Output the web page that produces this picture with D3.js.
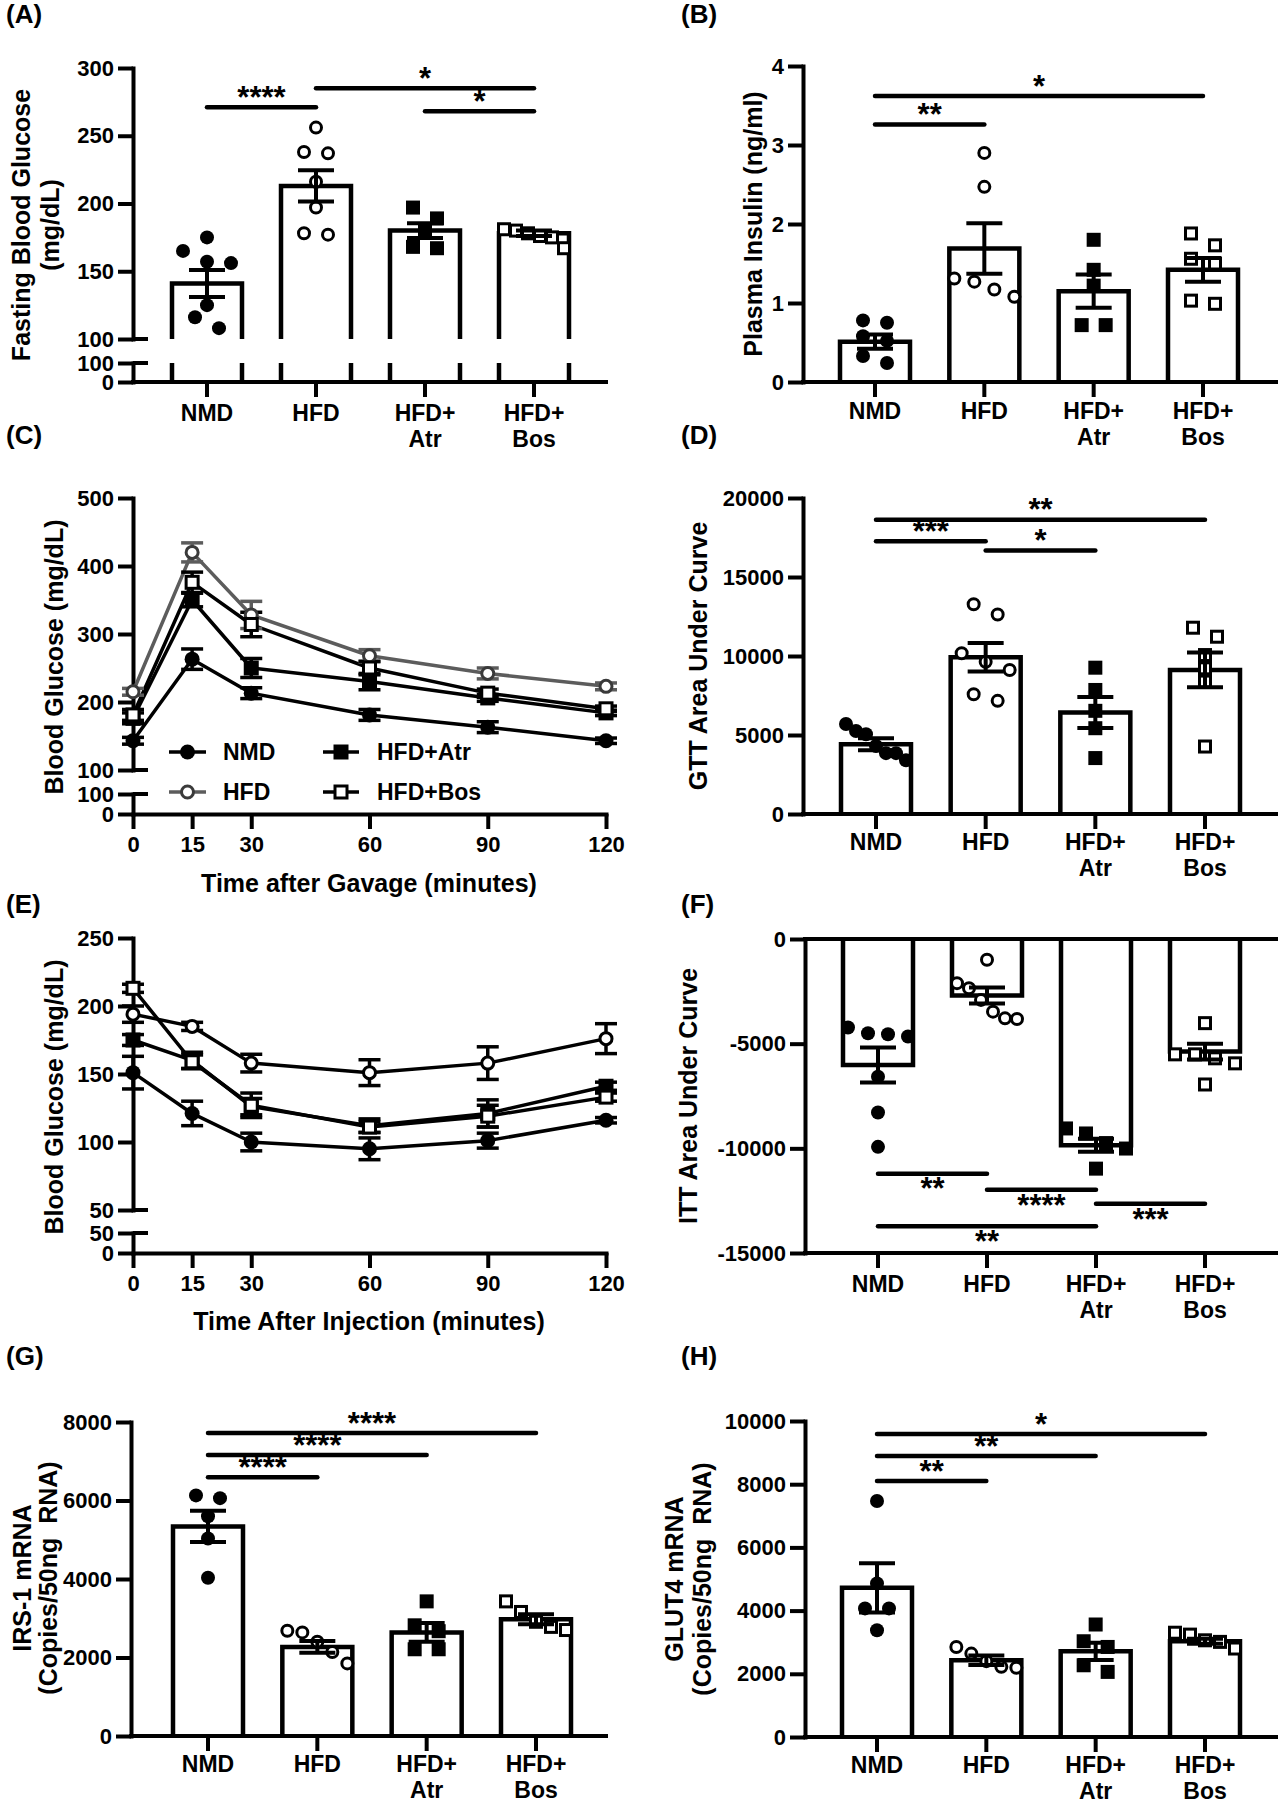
<!DOCTYPE html>
<html>
<head>
<meta charset="utf-8">
<script src="https://cdn.jsdelivr.net/npm/d3@7"></script>
<style>
html,body{margin:0;padding:0;background:#fff;}
svg{display:block;}
</style>
</head>
<body>
<script>
// ================= DATA =================
const groups = ["NMD", "HFD", "HFD+Atr", "HFD+Bos"];
const groupLabelLines = [["NMD"], ["HFD"], ["HFD+", "Atr"], ["HFD+", "Bos"]];
const groupMarkers = ["circleFilled", "circleOpen", "squareFilled", "squareOpen"];

// (A) Fasting blood glucose (mg/dL)
const fbgTicksUpper = [100, 150, 200, 250, 300];
const fbgTicksLower = [0, 100];
const fbgMean = [141, 213, 180, 178];
const fbgSem = [10, 11.5, 5.5, 2];
const fbgPoints = [
  [175, 165, 157, 156, 125, 116, 108],
  [256, 238, 237, 216, 197, 178, 177],
  [197, 189, 180, 168, 167],
  [181, 180, 178, 176, 175, 167]
];
const fbgSig = [
  {from: "NMD", to: "HFD", at: 271, label: "****"},
  {from: "HFD", to: "HFD+Bos", at: 285, label: "*"},
  {from: "HFD+Atr", to: "HFD+Bos", at: 268, label: "*"}
];

// (B) Plasma insulin (ng/ml)
const insTicks = [0, 1, 2, 3, 4];
const insMean = [0.51, 1.69, 1.15, 1.42];
const insSem = [0.09, 0.32, 0.21, 0.15];
const insPoints = [
  [0.78, 0.75, 0.58, 0.52, 0.33, 0.24],
  [2.9, 2.47, 1.31, 1.27, 1.17, 1.08],
  [1.8, 1.42, 1.22, 0.72, 0.72],
  [1.88, 1.73, 1.56, 1.50, 1.03, 0.99]
];
const insSig = [
  {from: "NMD", to: "HFD", at: 3.26, label: "**"},
  {from: "NMD", to: "HFD+Bos", at: 3.62, label: "*"}
];

// (C) GTT time course (mg/dL)
const times = [0, 15, 30, 60, 90, 120];
const gttTicksUpper = [100, 200, 300, 400, 500];
const gttTicksLower = [0, 100];
const gttNMD = [143, 263, 213, 181, 163, 143];
const gttNMDsem = [5, 15, 8, 8, 8, 4];
const gttHFD = [215, 420, 328, 268, 242, 223];
const gttHFDsem = [5, 14, 20, 9, 8, 5];
const gttAtr = [176, 350, 250, 230, 206, 184];
const gttAtrSem = [8, 10, 14, 12, 5, 4];
const gttBos = [181, 376, 314, 250, 213, 190];
const gttBosSem = [8, 15, 18, 10, 6, 4];

// (D) GTT AUC
const gttAucTicks = [0, 5000, 10000, 15000, 20000];
const gttAucMean = [4420, 9915, 6420, 9115];
const gttAucSem = [380, 900, 980, 1100];
const gttAucPoints = [
  [5700, 5250, 5050, 4300, 3850, 3850, 3400],
  [13280, 12630, 10170, 9640, 9110, 7580, 7160],
  [9260, 7850, 6530, 5430, 3540],
  [11790, 11220, 10060, 9220, 8380, 4270]
];
const gttAucSig = [
  {from: "NMD", to: "HFD+Bos", at: 18630, label: "**"},
  {from: "NMD", to: "HFD", at: 17260, label: "***"},
  {from: "HFD", to: "HFD+Atr", at: 16670, label: "*"}
];

// (E) ITT time course (mg/dL)
const ittTicksUpper = [50, 100, 150, 200, 250];
const ittTicksLower = [0, 50];
const ittNMD = [151, 121, 100, 95, 101, 116];
const ittNMDsem = [12, 9, 6.5, 8, 5.5, 2];
const ittHFD = [194, 185, 158, 151, 158, 176];
const ittHFDsem = [6, 3, 6.5, 9.5, 12, 11];
const ittAtr = [175, 160, 126, 112, 121, 141];
const ittAtrSem = [4, 6, 6, 5, 10, 3];
const ittBos = [213, 159, 127, 111, 119, 133];
const ittBosSem = [3, 5, 9, 4, 8, 3];

// (F) ITT AUC
const ittAucTicks = [-15000, -10000, -5000, 0];
const ittAucMean = [-6020, -2700, -9850, -5380];
const ittAucSem = [840, 380, 310, 375];
const ittAucPoints = [
  [-4230, -4660, -4500, -4550, -6580, -8290, -9930],
  [-990, -2110, -2350, -2910, -3470, -3790, -3820],
  [-9050, -9290, -9750, -10010, -10970],
  [-4020, -5510, -5510, -5700, -5940, -6950]
];
const ittAucSig = [
  {from: "NMD", to: "HFD", at: -11210, label: "**"},
  {from: "HFD", to: "HFD+Atr", at: -11980, label: "****"},
  {from: "HFD+Atr", to: "HFD+Bos", at: -12650, label: "***"},
  {from: "NMD", to: "HFD+Atr", at: -13720, label: "**"}
];

// (G) IRS-1 mRNA
const irsTicks = [0, 2000, 4000, 6000, 8000];
const irsMean = [5340, 2270, 2640, 2975];
const irsSem = [400, 150, 240, 130];
const irsPoints = [
  [6130, 6060, 5600, 5030, 4030],
  [2680, 2640, 2400, 2140, 1850],
  [3430, 2820, 2670, 2210, 2210],
  [3430, 3160, 2910, 2780, 2700]
];
const irsSig = [
  {from: "NMD", to: "HFD", at: 6590, label: "****"},
  {from: "NMD", to: "HFD+Atr", at: 7160, label: "****"},
  {from: "NMD", to: "HFD+Bos", at: 7720, label: "****"}
];

// (H) GLUT4 mRNA
const glutTicks = [0, 2000, 4000, 6000, 8000, 10000];
const glutMean = [4720, 2430, 2710, 3030];
const glutSem = [780, 150, 270, 80];
const glutPoints = [
  [7470, 4860, 4070, 4070, 3380],
  [2850, 2640, 2400, 2220, 2190],
  [3560, 3030, 2850, 2270, 2060],
  [3300, 3240, 3060, 3010, 2800]
];
const glutSig = [
  {from: "NMD", to: "HFD", at: 8100, label: "**"},
  {from: "NMD", to: "HFD+Atr", at: 8890, label: "**"},
  {from: "NMD", to: "HFD+Bos", at: 9590, label: "*"}
];

// ================= DRAWING =================
const FONT = '"Liberation Sans", Arial, Helvetica, sans-serif';
const STAR_FS = 31;
const svg = d3.select("body").append("svg").attr("width", 1278).attr("height", 1800);
svg.append("rect").attr("width", 1278).attr("height", 1800).attr("fill", "#fff");

function txt(g, x, y, s, size, anchor, weight) {
  return g.append("text").attr("x", x).attr("y", y)
    .attr("font-family", FONT).attr("font-size", size)
    .attr("font-weight", weight || "bold").attr("text-anchor", anchor || "start")
    .attr("fill", "#000").style("white-space", "pre").text(s);
}
function hline(g, x1, x2, y, w, cap) {
  return g.append("line").attr("x1", x1).attr("x2", x2).attr("y1", y).attr("y2", y)
    .attr("stroke", "#000").attr("stroke-width", w || 4).attr("stroke-linecap", cap || "butt");
}
function vline(g, x, y1, y2, w, color) {
  return g.append("line").attr("x1", x).attr("x2", x).attr("y1", y1).attr("y2", y2)
    .attr("stroke", color || "#000").attr("stroke-width", w || 4);
}
function styleAxis(sel, fs) {
  sel.attr("font-family", FONT).attr("font-size", fs).attr("font-weight", "bold");
  sel.selectAll(".tick line").attr("stroke", "#000").attr("stroke-width", 4);
  sel.selectAll(".domain").attr("stroke", "#000").attr("stroke-width", 4).attr("stroke-linecap", "square");
  sel.selectAll("text").attr("fill", "#000");
}
function yTitle(g, lines, bxs, cy, fs) {
  lines.forEach((l, i) => {
    g.append("text").attr("transform", `translate(${bxs[i]},${cy}) rotate(-90)`)
      .attr("text-anchor", "middle").attr("font-family", FONT).attr("font-size", fs)
      .attr("font-weight", "bold").attr("fill", "#000").style("white-space", "pre").text(l);
  });
}
function drawMarker(g, type, cx, cy, size, color) {
  color = color || "#000";
  if (type === "circleFilled") {
    g.append("circle").attr("cx", cx).attr("cy", cy).attr("r", size / 2).attr("fill", color);
  } else if (type === "circleOpen") {
    g.append("circle").attr("cx", cx).attr("cy", cy).attr("r", size / 2 - 1.5)
      .attr("fill", "#fff").attr("stroke", color).attr("stroke-width", 3);
  } else if (type === "squareFilled") {
    g.append("rect").attr("x", cx - size / 2).attr("y", cy - size / 2)
      .attr("width", size).attr("height", size).attr("fill", color);
  } else {
    g.append("rect").attr("x", cx - size / 2 + 1.5).attr("y", cy - size / 2 + 1.5)
      .attr("width", size - 3).attr("height", size - 3)
      .attr("fill", "#fff").attr("stroke", color).attr("stroke-width", 3);
  }
}
// simple row-based swarm layout (like Prism scatter columns)
function swarm(ys, thr, maxSpread, step) {
  const idx = ys.map((y, i) => i).sort((a, b) => ys[a] - ys[b]);
  const dx = new Array(ys.length).fill(0);
  let row = [idx[0]];
  const flush = () => {
    const n = row.length;
    const sp = n > 1 ? Math.min(step, maxSpread / (n - 1)) : 0;
    row.forEach((k, j) => dx[k] = (j - (n - 1) / 2) * sp);
  };
  for (let i = 1; i < idx.length; i++) {
    if (ys[idx[i]] - ys[row[row.length - 1]] < thr) row.push(idx[i]);
    else { flush(); row = [idx[i]]; }
  }
  flush();
  return dx;
}
function panelLetter(s, x, y) { txt(svg, x, y, s, 26, "start"); }

function brokenAxis(g, axisX, yU, yL, ticksU, ticksL, fs) {
  const a1 = g.append("g").attr("transform", `translate(${axisX},0)`)
    .call(d3.axisLeft(yU).tickValues(ticksU).tickSize(15).tickSizeOuter(0).tickPadding(4).tickFormat(d => String(d)));
  styleAxis(a1, fs);
  if (yL) {
    const a2 = g.append("g").attr("transform", `translate(${axisX},0)`)
      .call(d3.axisLeft(yL).tickValues(ticksL).tickSize(15).tickSizeOuter(0).tickPadding(4).tickFormat(d => String(d)));
    styleAxis(a2, fs);
    // break caps extend to the right side too
    hline(g, axisX, axisX + 15, yU.range()[0], 4);
    hline(g, axisX, axisX + 15, yL.range()[1], 4);
  }
}

function barPanel(cfg, mean, sem, points, sig, ticksU, ticksL) {
  const g = svg.append("g");
  const x = d3.scalePoint().domain(groups).range(cfg.cats);
  const yU = d3.scaleLinear().domain(cfg.domU).range(cfg.rangeU);
  const yL = cfg.domL ? d3.scaleLinear().domain(cfg.domL).range(cfg.rangeL) : null;
  const axisY = yL ? cfg.rangeL[0] : yU(cfg.axisAt !== undefined ? cfg.axisAt : 0);
  const base = yL ? cfg.rangeU[0] : yU(0);
  const bw = cfg.barW;

  // bars
  groups.forEach((grp, i) => {
    const cx = x(grp), top = yU(mean[i]);
    g.append("path").attr("d", `M${cx - bw / 2},${base}V${top}H${cx + bw / 2}V${base}`)
      .attr("fill", "#fff").attr("stroke", "#000").attr("stroke-width", 4.5);
    if (yL) {
      [cx - bw / 2, cx + bw / 2].forEach(xx => vline(g, xx, cfg.rangeL[1], cfg.rangeL[0], 4.5));
    }
  });

  // axes
  brokenAxis(g, cfg.axisX, yU, yL, ticksU, ticksL, 22);
  hline(g, cfg.axisX - 2, cfg.xEnd, axisY, 4);
  if (cfg.axisAt !== undefined) hline(g, cfg.axisX - 2, cfg.xEnd, yU(0), 4);
  groups.forEach((grp, i) => {
    vline(g, x(grp), axisY, axisY + 15, 4);
    groupLabelLines[i].forEach((l, j) => txt(g, x(grp), cfg.catBase + j * 26, l, 23, "middle"));
  });

  // points
  groups.forEach((grp, i) => {
    const ys = points[i].map(v => yU(v));
    const dx = swarm(ys, 12, 60, 24);
    ys.forEach((yy, k) => drawMarker(g, groupMarkers[i], x(grp) + dx[k], yy, 14));
  });

  // error bars (mean ± SEM)
  groups.forEach((grp, i) => {
    const cx = x(grp), y1 = yU(mean[i] - sem[i]), y2 = yU(mean[i] + sem[i]);
    vline(g, cx, y1, y2, 4);
    hline(g, cx - 18, cx + 18, y1, 4);
    hline(g, cx - 18, cx + 18, y2, 4);
  });

  // significance
  sig.forEach(s => {
    const yy = yU(s.at), x1 = x(s.from), x2 = x(s.to);
    hline(g, x1, x2, yy, 4.5, "round");
    const cy = cfg.sigBelow ? yy + 14 : yy - 11;
    txt(g, (x1 + x2) / 2, cy + 0.38 * STAR_FS, s.label, STAR_FS, "middle");
  });

  yTitle(g, cfg.title, cfg.titleX, cfg.titleY, 25);
}

function linePanel(cfg, series, ticksU, ticksL) {
  const g = svg.append("g");
  const x = d3.scaleLinear().domain([0, 120]).range(cfg.xRange);
  const yU = d3.scaleLinear().domain(cfg.domU).range(cfg.rangeU);
  const yL = d3.scaleLinear().domain(cfg.domL).range(cfg.rangeL);

  brokenAxis(g, cfg.xRange[0], yU, yL, ticksU, ticksL, 22);
  const xa = g.append("g").attr("transform", `translate(0,${cfg.rangeL[0]})`)
    .call(d3.axisBottom(x).tickValues(times).tickSize(15).tickSizeOuter(0).tickPadding(7));
  styleAxis(xa, 22);

  const line = d3.line().x((d, i) => x(times[i])).y(d => yU(d));
  series.forEach(s => {
    g.append("path").attr("d", line(s.values)).attr("fill", "none")
      .attr("stroke", s.lineColor).attr("stroke-width", 3.5).attr("stroke-linejoin", "round");
  });
  series.forEach(s => {
    s.values.forEach((v, i) => {
      const cx = x(times[i]), y1 = yU(v - s.sem[i]), y2 = yU(v + s.sem[i]);
      vline(g, cx, y1, y2, 3.5, s.lineColor);
      g.append("line").attr("x1", cx - 11).attr("x2", cx + 11).attr("y1", y1).attr("y2", y1).attr("stroke", s.lineColor).attr("stroke-width", 3.5);
      g.append("line").attr("x1", cx - 11).attr("x2", cx + 11).attr("y1", y2).attr("y2", y2).attr("stroke", s.lineColor).attr("stroke-width", 3.5);
    });
  });
  series.forEach(s => {
    s.values.forEach((v, i) => drawMarker(g, s.marker, x(times[i]), yU(v), 15, s.markerColor));
  });

  if (cfg.legend) {
    series.forEach((s, i) => {
      const pos = cfg.legend.slots[i];
      const ly = cfg.legend.rows[pos[1]], col = cfg.legend.cols[pos[0]];
      g.append("line").attr("x1", col[0]).attr("x2", col[1]).attr("y1", ly).attr("y2", ly)
        .attr("stroke", s.lineColor).attr("stroke-width", 3.5);
      drawMarker(g, s.marker, (col[0] + col[1]) / 2, ly, 15, s.markerColor);
      txt(g, col[2], ly + 8, s.name, 23, "start");
    });
  }

  yTitle(g, [cfg.title], [cfg.titleX], cfg.titleY, 25);
  txt(g, cfg.xTitle[1], cfg.xTitle[2], cfg.xTitle[0], 25, "middle");
}

// ---- Panel A ----
barPanel({axisX: 133, cats: [207, 534], domU: [100, 300], rangeU: [339, 68], domL: [0, 100], rangeL: [382, 363],
  xEnd: 608, barW: 70, catBase: 421, title: ["Fasting Blood Glucose", "(mg/dL)"], titleX: [30, 59], titleY: 225},
  fbgMean, fbgSem, fbgPoints, fbgSig, fbgTicksUpper, fbgTicksLower);
// ---- Panel B ----
barPanel({axisX: 803, cats: [875, 1203], domU: [0, 4], rangeU: [382, 66], xEnd: 1278, barW: 70, catBase: 419,
  title: ["Plasma Insulin (ng/ml)"], titleX: [762], titleY: 224},
  insMean, insSem, insPoints, insSig, insTicks, null);
// ---- Panel C ----
linePanel({xRange: [133, 606], domU: [100, 500], rangeU: [770, 498], domL: [0, 100], rangeL: [814, 794],
  title: "Blood Glucose (mg/dL)", titleX: 63, titleY: 657, xTitle: ["Time after Gavage (minutes)", 369, 892],
  legend: {rows: [752, 792], cols: [[169, 206, 223], [323, 359, 377]], slots: [[0, 0], [0, 1], [1, 0], [1, 1]]}},
  [
    {name: "NMD", values: gttNMD, sem: gttNMDsem, marker: "circleFilled", lineColor: "#000", markerColor: "#000"},
    {name: "HFD", values: gttHFD, sem: gttHFDsem, marker: "circleOpen", lineColor: "#5c5c5c", markerColor: "#3a3a3a"},
    {name: "HFD+Atr", values: gttAtr, sem: gttAtrSem, marker: "squareFilled", lineColor: "#000", markerColor: "#000"},
    {name: "HFD+Bos", values: gttBos, sem: gttBosSem, marker: "squareOpen", lineColor: "#000", markerColor: "#000"}
  ], gttTicksUpper, gttTicksLower);
// ---- Panel D ----
barPanel({axisX: 803, cats: [876, 1205], domU: [0, 20000], rangeU: [814, 498], xEnd: 1278, barW: 70, catBase: 850,
  title: ["GTT Area Under Curve"], titleX: [707], titleY: 656},
  gttAucMean, gttAucSem, gttAucPoints, gttAucSig, gttAucTicks, null);
// ---- Panel E ----
linePanel({xRange: [133, 606], domU: [50, 250], rangeU: [1210, 938], domL: [0, 50], rangeL: [1253, 1233],
  title: "Blood Glucose (mg/dL)", titleX: 63, titleY: 1097, xTitle: ["Time After Injection (minutes)", 369, 1330]},
  [
    {name: "NMD", values: ittNMD, sem: ittNMDsem, marker: "circleFilled", lineColor: "#000", markerColor: "#000"},
    {name: "HFD", values: ittHFD, sem: ittHFDsem, marker: "circleOpen", lineColor: "#000", markerColor: "#000"},
    {name: "HFD+Atr", values: ittAtr, sem: ittAtrSem, marker: "squareFilled", lineColor: "#000", markerColor: "#000"},
    {name: "HFD+Bos", values: ittBos, sem: ittBosSem, marker: "squareOpen", lineColor: "#000", markerColor: "#000"}
  ], ittTicksUpper, ittTicksLower);
// ---- Panel F ----
barPanel({axisX: 805, cats: [878, 1205], domU: [-15000, 0], rangeU: [1253, 939], axisAt: -15000, sigBelow: true,
  xEnd: 1278, barW: 70, catBase: 1292, title: ["ITT Area Under Curve"], titleX: [697], titleY: 1096},
  ittAucMean, ittAucSem, ittAucPoints, ittAucSig, ittAucTicks, null);
// ---- Panel G ----
barPanel({axisX: 131, cats: [208, 536], domU: [0, 8000], rangeU: [1736, 1422], xEnd: 608, barW: 70, catBase: 1772,
  title: ["IRS-1 mRNA", "(Copies/50ng  RNA)"], titleX: [31, 57], titleY: 1578},
  irsMean, irsSem, irsPoints, irsSig, irsTicks, null);
// ---- Panel H ----
barPanel({axisX: 805, cats: [877, 1205], domU: [0, 10000], rangeU: [1737, 1421], xEnd: 1278, barW: 70, catBase: 1773,
  title: ["GLUT4 mRNA", "(Copies/50ng  RNA)"], titleX: [683, 711], titleY: 1579},
  glutMean, glutSem, glutPoints, glutSig, glutTicks, null);

// panel letters
panelLetter("(A)", 6, 23);
panelLetter("(B)", 681, 23);
panelLetter("(C)", 6, 444);
panelLetter("(D)", 681, 444);
panelLetter("(E)", 6, 913);
panelLetter("(F)", 681, 913);
panelLetter("(G)", 6, 1365);
panelLetter("(H)", 681, 1365);
</script>
</body>
</html>
